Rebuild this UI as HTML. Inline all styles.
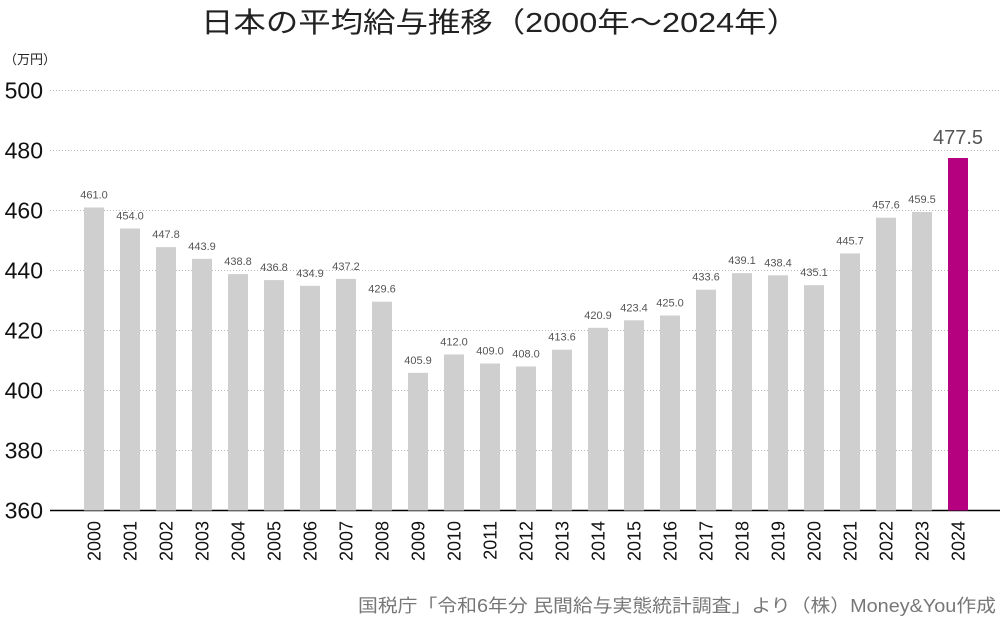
<!DOCTYPE html>
<html><head><meta charset="utf-8"><style>
body{margin:0;background:#fff;}
svg{display:block;font-family:"Liberation Sans","Noto Sans CJK JP",sans-serif;}
</style></head><body>
<svg id="chart" width="1000" height="624">
<text x="500" y="32" text-anchor="middle" font-size="28" textLength="598" lengthAdjust="spacingAndGlyphs" fill="#222">日本の平均給与推移（2000年～2024年）</text>
<text x="4" y="64" font-size="13" fill="#222">（万円）</text>
<text x="996" y="612" text-anchor="end" font-size="18" textLength="638" lengthAdjust="spacingAndGlyphs" fill="#777">国税庁「令和6年分 民間給与実態統計調査」より（株）Money&amp;You作成</text>
<g id="grid"></g><g id="bars"></g>
</svg>
<script>
const years=['2000','2001','2002','2003','2004','2005','2006','2007','2008','2009','2010','2011','2012','2013','2014','2015','2016','2017','2018','2019','2020','2021','2022','2023','2024'];
const salaries=[461.0,454.0,447.8,443.9,438.8,436.8,434.9,437.2,429.6,405.9,412.0,409.0,408.0,413.6,420.9,423.4,425.0,433.6,439.1,438.4,435.1,445.7,457.6,459.5,477.5];
const yTicks=[360,380,400,420,440,460,480,500];
const NS='http://www.w3.org/2000/svg';
const y=v=>510.5-(v-360)*3;
const x=i=>84+i*36;
function mk(t,a,p){const e=document.createElementNS(NS,t);for(const k in a)e.setAttribute(k,a[k]);p.appendChild(e);return e;}
const g=document.getElementById('grid'),b=document.getElementById('bars');
yTicks.forEach(v=>{
 const l=mk('line',{x1:50,x2:1000,y1:y(v),y2:y(v),stroke:v===360?'#000':'#bbb','stroke-width':v===360?1.5:1,'stroke-dasharray':v===360?'':'1,2'},g);
 
 
 const t=mk('text',{x:43,y:y(v)+8,'text-anchor':'end','font-size':23,fill:'#111'},g);t.textContent=v;
 
 
});
salaries.forEach((v,i)=>{
 const last=i===salaries.length-1;
 const r=mk('rect',{x:x(i),y:y(v),width:20,height:y(360)-y(v),fill:last?'#b5007f':'#cfcfcf'},b);
 
 
 const t=mk('text',{x:x(i)+10,y:y(v)-(last?14:9),'text-anchor':'middle','font-size':last?20:11,fill:'#555'},b);
 t.textContent=v.toFixed(1);
 
 
 const yl=mk('text',{x:0,y:0,'text-anchor':'end','font-size':18,fill:'#111',transform:`translate(${x(i)+16.5},521) rotate(-90)`},b);
 yl.textContent=years[i];
 
 
});
</script>
</body></html>
